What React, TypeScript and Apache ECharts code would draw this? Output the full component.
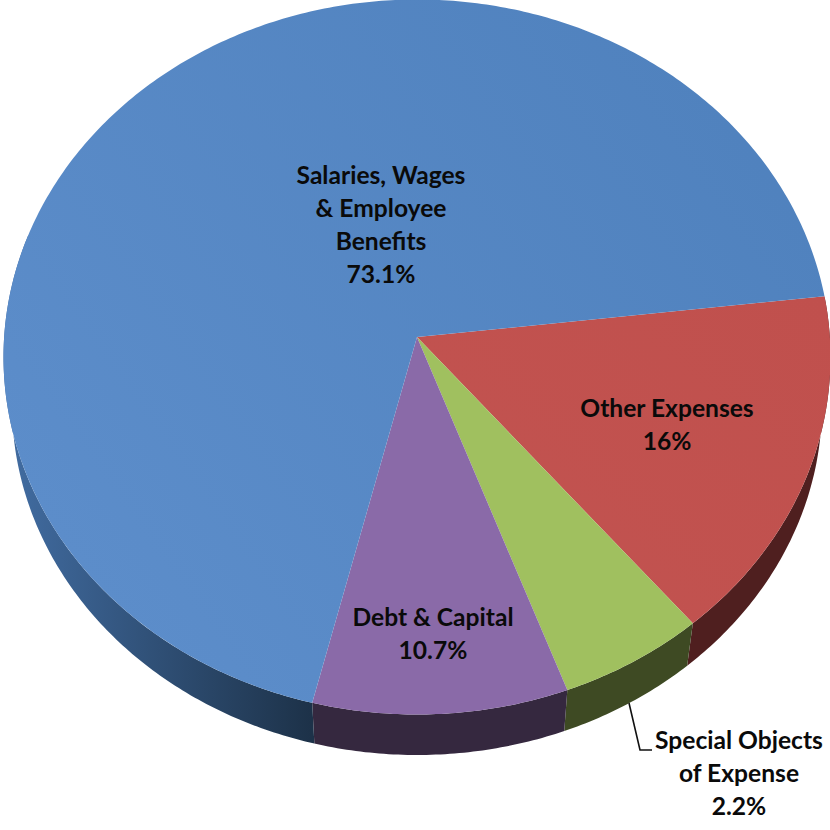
import React, { useEffect, useRef } from "react";
import * as echarts from "echarts";

// Slices, clockwise from the red/blue edge
const categories = ["Other Expenses", "Special Objects of Expense", "Debt & Capital", "Salaries, Wages & Employee Benefits"];
const printedPercents = ["16%", "2.2%", "10.7%", "73.1%"];
// Share of the drawn ellipse each slice occupies (%)
const drawnShares = [16.1, 5.7, 10.0, 68.2];
const labelLines = [
  ["Other Expenses", "16%"],
  ["Special Objects", "of Expense", "2.2%"],
  ["Debt & Capital", "10.7%"],
  ["Salaries, Wages", "& Employee", "Benefits", "73.1%"],
];
const labelCentres = [
  [667, 407],
  [739, 739],
  [433, 616],
  [381, 174],
];
const leaderLine = [
  [629, 703],
  [640, 750],
  [652, 750],
];

const START_DEG = -9.8;
const TOP = { cx: 417, cy: 357, rx: 413.5, ry: 357.5 };
const BOTTOM = { cx: 417, cy: 405, rx: 405, ry: 350 };
const APEX = [417, 337];
const LINE_H = 33;
const FONT = '"Lato", "Carlito", sans-serif';

const vGrad = (x0: number, y0: number, x1: number, y1: number, c0: string, c1: string) =>
  new echarts.graphic.LinearGradient(x0, y0, x1, y1, [
    { offset: 0, color: c0 },
    { offset: 1, color: c1 },
  ], true);

const faceFills = [
  vGrad(830, 300, 500, 640, "#c0504d", "#c25350"),
  "#a0c05f",
  "#8a6aa8",
  vGrad(800, 100, 100, 600, "#4f81bd", "#5c8dca"),
];
const wallFills = [
  "#4f1f1f",
  "#3e4a23",
  "#35283f",
  vGrad(20, 0, 310, 0, "#406a9e", "#1d3249"),
];

function sliceRange(i: number): [number, number] {
  let t = START_DEG;
  for (let k = 0; k < i; k++) t += (drawnShares[k] / 100) * 360;
  return [t, t + (drawnShares[i] / 100) * 360];
}

function arc(e: typeof TOP, a: number, b: number): number[][] {
  const n = Math.max(4, Math.ceil(Math.abs(b - a) * 1.5));
  const pts: number[][] = [];
  for (let j = 0; j <= n; j++) {
    const t = ((a + ((b - a) * j) / n) * Math.PI) / 180;
    pts.push([e.cx + e.rx * Math.cos(t), e.cy + e.ry * Math.sin(t)]);
  }
  return pts;
}

export default function App() {
  const ref = useRef<HTMLDivElement>(null);
  useEffect(() => {
    const chart = echarts.init(ref.current!, undefined, { renderer: "svg" });
    const data = drawnShares.map((v, i) => ({ name: categories[i], value: [v], printed: printedPercents[i] }));
    chart.setOption({
      animation: false,
      backgroundColor: "#ffffff",
      series: [
        {
          type: "custom",
          coordinateSystem: "none",
          silent: true,
          z: 1,
          data,
          renderItem: (p: any) => {
            const [a, b] = sliceRange(p.dataIndex);
            // wall only shows on the lower half of the disc
            const from = Math.max(a, -9.8);
            const to = Math.min(b, 200);
            return {
              type: "polygon",
              shape: { points: [...arc(TOP, from, to), ...arc(BOTTOM, to, from)] },
              style: { fill: wallFills[p.dataIndex], stroke: null },
            };
          },
        },
        {
          type: "custom",
          coordinateSystem: "none",
          silent: true,
          z: 2,
          data,
          renderItem: (p: any) => {
            const [a, b] = sliceRange(p.dataIndex);
            return {
              type: "polygon",
              shape: { points: [APEX, ...arc(TOP, a, b)] },
              style: { fill: faceFills[p.dataIndex], stroke: null },
            };
          },
        },
        {
          type: "custom",
          coordinateSystem: "none",
          silent: true,
          z: 3,
          data,
          renderItem: (p: any) => {
            const i = p.dataIndex;
            const [x, y] = labelCentres[i];
            const children: any[] = labelLines[i].map((text, k) => ({
              type: "text",
              style: {
                x,
                y: y + k * LINE_H,
                text,
                fill: "#0a0a0a",
                font: `bold 24.6px ${FONT}`,
                align: "center",
                verticalAlign: "middle",
              },
            }));
            if (i === 1) {
              children.push({
                type: "polyline",
                shape: { points: leaderLine },
                style: { stroke: "#111111", lineWidth: 1.6, fill: null },
              });
            }
            return { type: "group", children };
          },
        },
      ],
    });
    return () => chart.dispose();
  }, []);
  return <div ref={ref} style={{ position: "absolute", left: 0, top: 0, width: 830, height: 830 }} />;
}
